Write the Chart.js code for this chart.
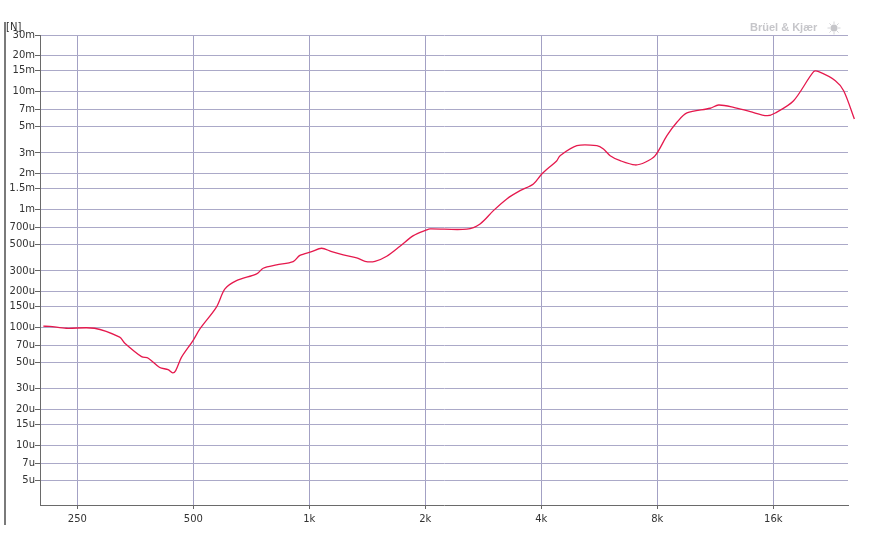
<!DOCTYPE html>
<html>
<head>
<meta charset="utf-8">
<script src="https://cdn.jsdelivr.net/npm/chart.js@4"></script>
<style>
  html, body { margin: 0; padding: 0; background: #fff; }
  #wrap { width: 871px; height: 544px; }
</style>
</head>
<body>
<div id="wrap"><canvas id="chart" width="871" height="544"></canvas></div>
<script>
// frequency response (Hz / N)
const freqs = [204, 212, 234, 277, 322, 332, 367, 382, 409, 430, 442, 450, 466, 499, 520,
  574, 604, 647, 730, 759, 822, 908, 945, 1014, 1076, 1143, 1225, 1327, 1395, 1480, 1588,
  1719, 1862, 2016, 2057, 2562, 2774, 3004, 3254, 3523, 3815, 4011, 4388, 4475, 4946, 5574,
  5798, 6036, 6408, 7009, 7442, 7899, 8472, 8994, 9548, 10976, 11535, 12616, 13943, 15410,
  16190, 18062, 20360, 20980, 23180, 24360, 25970];
const force = [102e-6, 101.6e-6, 98e-6, 98e-6, 82.3e-6, 73.2e-6, 56.3e-6, 54.6e-6, 45.5e-6,
  43.7e-6, 41.0e-6, 42.9e-6, 55.7e-6, 77.0e-6, 96.7e-6, 148e-6, 211e-6, 248e-6, 283e-6,
  316e-6, 337e-6, 360e-6, 406e-6, 437e-6, 467e-6, 437e-6, 410e-6, 387e-6, 362e-6, 362e-6,
  400e-6, 486e-6, 597e-6, 668e-6, 681e-6, 678e-6, 751e-6, 973e-6, 1.223e-3, 1.437e-3,
  1.638e-3, 1.991e-3, 2.581e-3, 2.846e-3, 3.459e-3, 3.459e-3, 3.243e-3, 2.846e-3, 2.581e-3,
  2.373e-3, 2.502e-3, 2.846e-3, 4.204e-3, 5.46e-3, 6.55e-3, 7.18e-3, 7.65e-3, 7.32e-3,
  6.72e-3, 6.21e-3, 6.55e-3, 8.32e-3, 14.66e-3, 14.66e-3, 12.3e-3, 10.1e-3, 5.82e-3];

const xTickValues = [250, 500, 1000, 2000, 4000, 8000, 16000];
const xTickLabels = ['250', '500', '1k', '2k', '4k', '8k', '16k'];
const yTickValues = [30e-3, 20e-3, 15e-3, 10e-3, 7e-3, 5e-3, 3e-3, 2e-3, 1.5e-3, 1e-3,
  700e-6, 500e-6, 300e-6, 200e-6, 150e-6, 100e-6, 70e-6, 50e-6, 30e-6, 20e-6, 15e-6,
  10e-6, 7e-6, 5e-6];
const yTickLabels = ['30m', '20m', '15m', '10m', '7m', '5m', '3m', '2m', '1.5m', '1m',
  '700u', '500u', '300u', '200u', '150u', '100u', '70u', '50u', '30u', '20u', '15u',
  '10u', '7u', '5u'];

const tickFont = { family: 'DejaVu Sans', size: 10 };

const extras = {
  id: 'extras',
  afterDraw(chart) {
    const ctx = chart.ctx;
    ctx.save();
    // window edge on the left
    ctx.fillStyle = '#7a7a7a';
    ctx.fillRect(4, 22, 2, 503);
    // unit label
    ctx.fillStyle = '#333';
    ctx.font = '10px "DejaVu Sans"';
    ctx.textBaseline = 'middle';
    ctx.textAlign = 'left';
    ctx.fillText('[N]', 6, 27);
    // brand mark
    ctx.fillStyle = '#c6c6ca';
    ctx.font = 'bold 11px "Liberation Sans"';
    ctx.fillText('Brüel & Kjær', 750, 28);
    ctx.beginPath();
    ctx.arc(834, 28, 3.5, 0, Math.PI * 2);
    ctx.fill();
    ctx.strokeStyle = '#d4d4d8';
    ctx.lineWidth = 1;
    for (let i = 0; i < 8; i++) {
      const a = i * Math.PI / 4;
      ctx.beginPath();
      ctx.moveTo(834 + Math.cos(a) * 4, 28 + Math.sin(a) * 4);
      ctx.lineTo(834 + Math.cos(a) * 6.5, 28 + Math.sin(a) * 6.5);
      ctx.stroke();
    }
    ctx.restore();
  }
};

new Chart(document.getElementById('chart'), {
  type: 'line',
  data: {
    datasets: [{
      data: freqs.map((f, i) => ({ x: f, y: force[i] })),
      borderColor: '#e5194d',
      borderWidth: 1.3,
      pointRadius: 0,
      tension: 0.3,
      fill: false,
      clip: false,
    }],
  },
  options: {
    responsive: false,
    animation: false,
    events: [],
    layout: { padding: { top: 35, right: 23, left: 0, bottom: 0 } },
    plugins: { legend: { display: false }, tooltip: { enabled: false } },
    scales: {
      x: {
        type: 'logarithmic',
        min: 200,
        max: 25000,
        afterBuildTicks: s => { s.ticks = xTickValues.map(v => ({ value: v })); },
        afterFit: s => { s.height = 39; },
        grid: { color: '#a3a1c4', tickColor: '#666', tickLength: 4 },
        border: { color: '#6a6a6a', width: 1 },
        ticks: {
          autoSkip: false, maxRotation: 0, padding: 4, color: '#333', font: tickFont,
          callback: (v, i) => xTickLabels[i],
        },
      },
      y: {
        type: 'logarithmic',
        min: 3.11e-6,
        max: 30e-3,
        afterBuildTicks: s => { s.ticks = yTickValues.map(v => ({ value: v })); },
        afterFit: s => { s.width = 40; },
        grid: { color: '#aba9c8', tickColor: '#666', tickLength: 5 },
        border: { color: '#6a6a6a', width: 1 },
        ticks: {
          autoSkip: false, padding: 0, color: '#333', font: tickFont,
          callback: (v, i) => yTickLabels[i],
        },
      },
    },
  },
  plugins: [extras],
});
</script>
</body>
</html>
